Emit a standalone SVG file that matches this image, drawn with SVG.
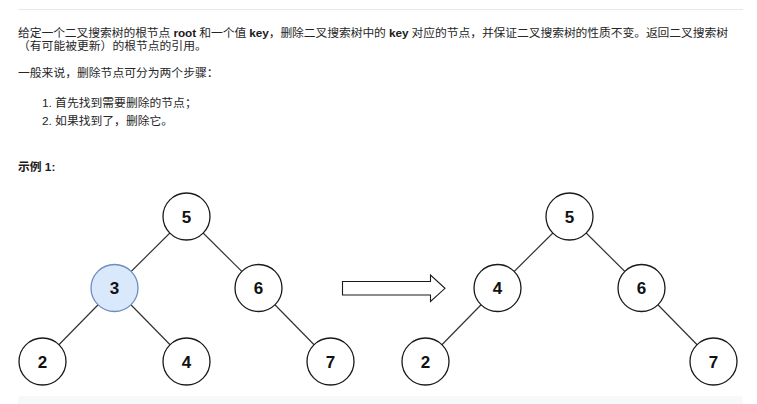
<svg xmlns="http://www.w3.org/2000/svg" width="757" height="404" viewBox="0 0 757 404">
<style>
.t{font-family:"Liberation Sans","Noto Sans CJK SC",sans-serif;font-size:11.8px;fill:#262626}
.b{font-weight:bold;fill:#1a1a1a}
.n circle{fill:#fff;stroke:#1a1a1a;stroke-width:1.3}
.n text{font-family:"Liberation Sans",Arial,sans-serif;font-size:17px;font-weight:bold;fill:#111;text-anchor:middle}
.n.hl circle{fill:#dae8fc;stroke:#6c8ebf}
#edges line{stroke:#333;stroke-width:1.2}
</style>
<rect x="0" y="0" width="757" height="404" fill="#fff"/>
<line x1="18" y1="9.5" x2="743" y2="9.5" stroke="#e8e8e8" stroke-width="1"/>
<g id="text">
<text class="t" x="18" y="36.5" textLength="710" lengthAdjust="spacing">给定一个二叉搜索树的根节点 <tspan class="b">root</tspan> 和一个值 <tspan class="b">key</tspan>，删除二叉搜索树中的 <tspan class="b">key</tspan> 对应的节点，并保证二叉搜索树的性质不变。返回二叉搜索树</text>
<text class="t" x="18" y="50">（有可能被更新）的根节点的引用。</text>
<text class="t" x="18" y="77">一般来说，删除节点可分为两个步骤：</text>
<text class="t" x="42" y="106.7">1. 首先找到需要删除的节点；</text>
<text class="t" x="42" y="124.7">2. 如果找到了，删除它。</text>
<text class="t b" x="18" y="170.5">示例 1:</text>
</g>
<g id="edges">
<line x1="186.5" y1="216.5" x2="114.5" y2="288"/>
<line x1="186.5" y1="216.5" x2="258.5" y2="288"/>
<line x1="114.5" y1="288" x2="42.5" y2="361.5"/>
<line x1="114.5" y1="288" x2="186.5" y2="361.5"/>
<line x1="258.5" y1="288" x2="330.5" y2="361.5"/>
<line x1="569.5" y1="216.5" x2="497.5" y2="288"/>
<line x1="569.5" y1="216.5" x2="641.5" y2="288"/>
<line x1="497.5" y1="288" x2="425.5" y2="361.5"/>
<line x1="641.5" y1="288" x2="713.5" y2="361.5"/>
</g>
<g id="arrow">
<polygon points="342.5,281.5 430.5,281.5 430.5,275 445,288.3 430.5,301.5 430.5,295 342.5,295" fill="#fff" stroke="#1a1a1a" stroke-width="1.1" stroke-linejoin="miter"/>
</g>
<g id="L5" class="n"><circle cx="186.5" cy="216.5" r="23.5"/><text x="186.5" y="222.5">5</text></g>
<g id="L3" class="n hl"><circle cx="114.5" cy="288" r="23.5"/><text x="114.5" y="294">3</text></g>
<g id="L6" class="n"><circle cx="258.5" cy="288" r="23.5"/><text x="258.5" y="294">6</text></g>
<g id="L2" class="n"><circle cx="42.5" cy="361.5" r="23.5"/><text x="42.5" y="367.5">2</text></g>
<g id="L4" class="n"><circle cx="186.5" cy="361.5" r="23.5"/><text x="186.5" y="367.5">4</text></g>
<g id="L7" class="n"><circle cx="330.5" cy="361.5" r="23.5"/><text x="330.5" y="367.5">7</text></g>
<g id="R5" class="n"><circle cx="569.5" cy="216.5" r="23.5"/><text x="569.5" y="222.5">5</text></g>
<g id="R4" class="n"><circle cx="497.5" cy="288" r="23.5"/><text x="497.5" y="294">4</text></g>
<g id="R6" class="n"><circle cx="641.5" cy="288" r="23.5"/><text x="641.5" y="294">6</text></g>
<g id="R2" class="n"><circle cx="425.5" cy="361.5" r="23.5"/><text x="425.5" y="367.5">2</text></g>
<g id="R7" class="n"><circle cx="713.5" cy="361.5" r="23.5"/><text x="713.5" y="367.5">7</text></g>
<rect x="18" y="396" width="725" height="14" rx="3" fill="#f7f8fa"/>
</svg>
